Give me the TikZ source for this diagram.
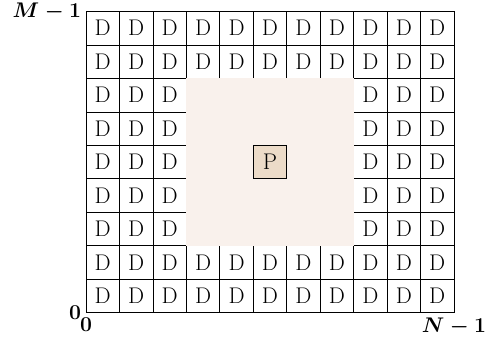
\documentclass[tikz,border=0pt]{standalone}
\definecolor{regionfill}{RGB}{249,241,236}
\definecolor{pfill}{RGB}{236,219,200}
\tikzset{
  cellfont/.style={font=\fontsize{17}{20}\selectfont},
  dcell/.style={draw=black, line width=0.5pt, minimum width=25.09pt, minimum height=25.09pt, inner sep=0pt, cellfont},
  pcell/.style={dcell, fill=pfill},
  regionbox/.style={fill=regionfill, draw=none, minimum width=125.45pt+0.6pt, minimum height=125.45pt+0.6pt, inner sep=0pt},
  axislabel/.style={font=\boldmath\fontsize{16}{19}\selectfont},
  ylabel/.style={axislabel, anchor=east, inner xsep=3.5pt, inner ysep=0pt},
  xlabel/.style={axislabel, anchor=north, inner ysep=3.5pt, inner xsep=0pt}
}
\begin{document}
\begin{tikzpicture}[x=25.09pt,y=25.09pt]
\useasboundingbox (-2.571,-0.909) rectangle (12.138,9.345);
\foreach \i in {0,...,10}{\foreach \j in {0,...,8}{
  \pgfmathtruncatemacro\inner{and(and(\i>2,\i<8),and(\j>1,\j<7))}
  \ifnum\inner=0 \node[dcell] (c-\i-\j) at (\i+0.5,\j+0.5) {D};\fi
}}
\node[regionbox] (region) at (5.5,4.5) {};
\node[pcell] (p) at (region.center) {P};
\coordinate (o) at (0,0);
\coordinate (tl) at (0,9);
\coordinate (br) at (11,0);
\node[ylabel] (ylo) at (o) {\scalebox{0.92}{$0$}};
\node[ylabel] (yhi) at (tl) {\scalebox{0.92}{$M-1$}};
\node[xlabel] (xlo) at (o) {\scalebox{0.92}{$0$}};
\node[xlabel] (xhi) at (br) {\scalebox{0.92}{$N-1$}};
\end{tikzpicture}
\end{document}
